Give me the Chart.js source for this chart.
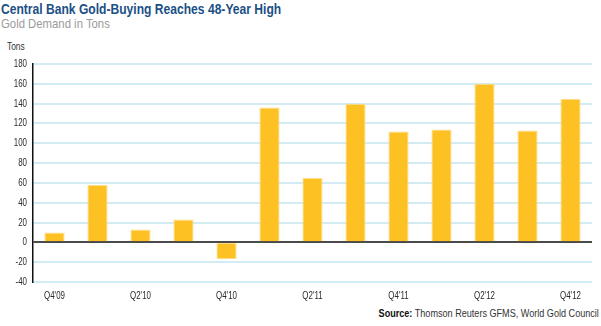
<!DOCTYPE html>
<html>
<head>
<meta charset="utf-8">
<script src="https://cdn.jsdelivr.net/npm/chart.js@4"></script>
<style>
  html, body { margin: 0; padding: 0; background: #fff; }
  body { width: 601px; height: 326px; position: relative; overflow: hidden;
         font-family: "Liberation Sans", Arial, sans-serif; }
  .narrow { position: absolute; white-space: nowrap; transform-origin: left top; }
  #title { left: 1px; top: 0px; font-size: 15.5px; font-weight: bold; color: #1b4f86; transform: scaleX(0.78); }
  #subtitle { left: 1px; top: 16px; font-size: 13.5px; color: #9a9a9a; transform: scaleX(0.84); }
  #unit { left: 7px; top: 40px; font-size: 10.5px; color: #333; transform: scaleX(0.8); }
  #source { right: 2px; top: 307px; font-size: 11.5px; color: #333; transform-origin: right top; transform: scaleX(0.79); }
  #source b { color: #111; }
  #wrap { position: absolute; left: 0; top: 0; width: 601px; height: 326px; }
</style>
</head>
<body>
<div id="title" class="narrow">Central Bank Gold-Buying Reaches 48-Year High</div>
<div id="subtitle" class="narrow">Gold Demand in Tons</div>
<div id="unit" class="narrow">Tons</div>
<div id="source" class="narrow"><b>Source:</b> Thomson Reuters GFMS, World Gold Council</div>
<div id="wrap"><canvas id="goldChart"></canvas></div>
<script>
// Quarterly central bank gold demand, tons
const quarters = ["Q4'09", "Q1'10", "Q2'10", "Q3'10", "Q4'10", "Q1'11", "Q2'11",
                  "Q3'11", "Q4'11", "Q1'12", "Q2'12", "Q3'12", "Q4'12"];
const demandTons = [10, 58, 13, 23, -17, 136, 65, 140, 112, 114, 160, 113, 145];
const yTicks = [-40, -20, 0, 20, 40, 60, 80, 100, 120, 140, 160, 180];

const tickFont = '11px "Liberation Sans", Arial, sans-serif';
const squeeze = 0.72;

// Draws tick labels horizontally squeezed to get a condensed look
const narrowTicks = {
    id: 'narrowTicks',
    afterDraw(chart) {
        const c = chart.ctx;
        const xs = chart.scales.x;
        const ys = chart.scales.y;
        c.save();
        c.font = tickFont;
        c.fillStyle = '#2a2a2a';
        c.textBaseline = 'middle';

        c.textAlign = 'right';
        ys.ticks.forEach(t => {
            const y = ys.getPixelForValue(t.value);
            c.save();
            c.translate(ys.right - 6, y);
            c.scale(squeeze, 1);
            c.fillText(String(t.value), 0, 0);
            c.restore();
        });

        c.textAlign = 'center';
        quarters.forEach((q, i) => {
            if (i % 2 !== 0) return;
            const x = xs.getPixelForValue(i);
            c.save();
            c.translate(x, xs.top + 14);
            c.scale(squeeze, 1);
            c.fillText(q, 0, 0);
            c.restore();
        });
        c.restore();
    }
};

const ctx = document.getElementById('goldChart');

new Chart(ctx, {
    type: 'bar',
    data: {
        labels: quarters,
        datasets: [{
            data: demandTons,
            backgroundColor: '#fdc124',
            borderColor: '#fddf8c',
            borderWidth: 1,
            barPercentage: 0.47,
            categoryPercentage: 1
        }]
    },
    options: {
        responsive: true,
        maintainAspectRatio: false,
        animation: false,
        layout: { padding: { left: 0, right: 9, top: 64, bottom: 0 } },
        plugins: {
            legend: { display: false },
            tooltip: { enabled: false }
        },
        scales: {
            x: {
                grid: { display: false, drawTicks: false },
                border: { display: false },
                ticks: { display: false },
                afterFit: function(scale) { scale.height = 44; }
            },
            y: {
                min: -40,
                max: 180,
                afterBuildTicks: function(scale) {
                    scale.ticks = yTicks.map(v => ({ value: v }));
                },
                grid: {
                    drawTicks: false,
                    lineWidth: 2,
                    color: function(c) {
                        return c.tick && c.tick.value === 0 ? '#4a4a4a' : '#d3ebf3';
                    }
                },
                border: { display: true, color: '#111', width: 1.5 },
                ticks: { display: false },
                afterFit: function(scale) { scale.width = 33; }
            }
        }
    },
    plugins: [narrowTicks]
});
</script>
</body>
</html>
